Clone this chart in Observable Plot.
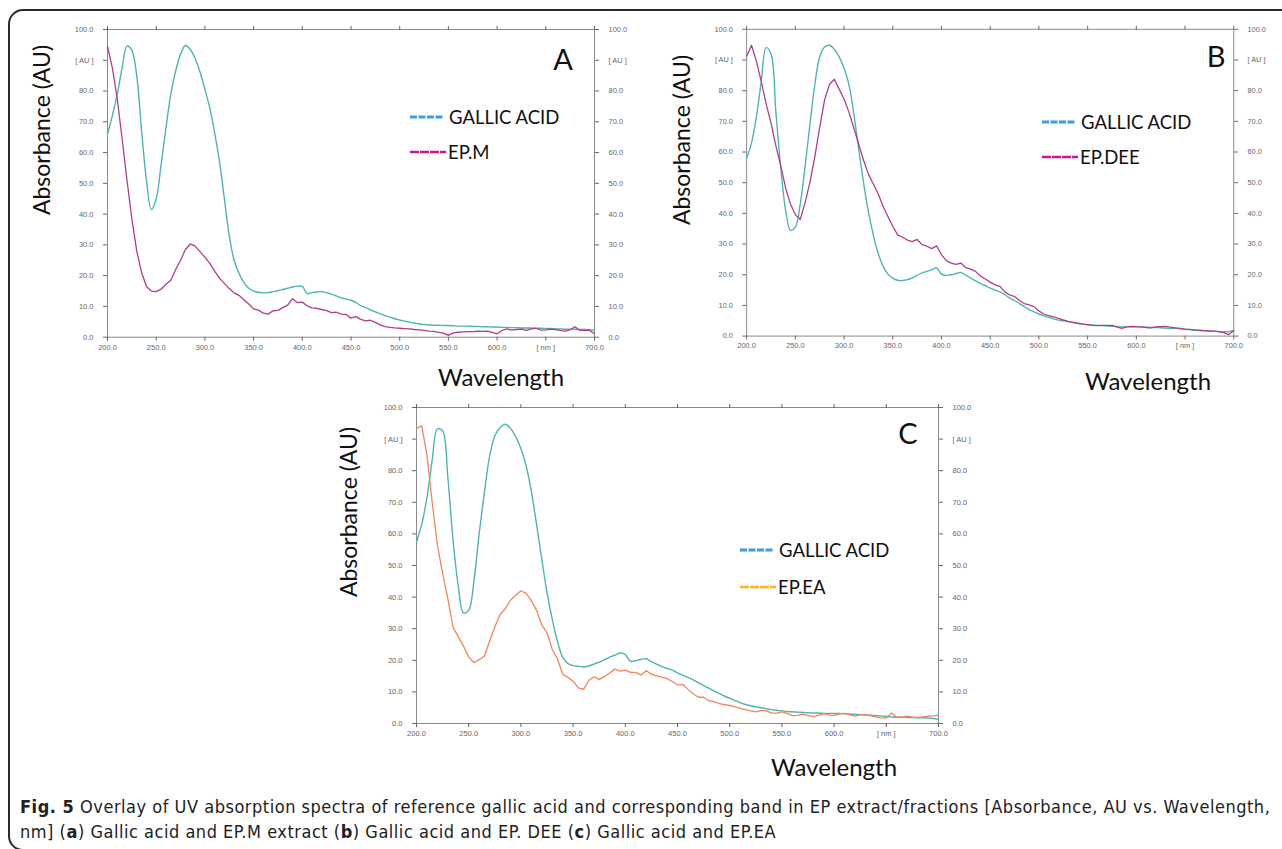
<!DOCTYPE html>
<html><head><meta charset="utf-8">
<script src="https://cdn.jsdelivr.net/npm/d3@7"></script>
<script src="https://cdn.jsdelivr.net/npm/@observablehq/plot@0.6"></script>
<style>
html,body{margin:0;padding:0;background:#fff;}
body{width:1282px;height:849px;position:relative;overflow:hidden;font-family:Lato,"Open Sans",sans-serif;}
#border{position:absolute;left:8px;top:9px;width:1320px;height:842px;box-sizing:border-box;border:2px solid #2a2a2a;border-radius:15px;}
.panel{position:absolute;}
.ytitle{position:absolute;transform:translate(-50%,-50%) rotate(-90deg);white-space:nowrap;font-size:23px;color:#111;}
.xtitle{position:absolute;transform:translate(-50%,-50%);font-size:24px;color:#111;white-space:nowrap;}
.letter{position:absolute;transform:translate(-50%,-50%);font-size:29px;color:#111;}
.leg{position:absolute;display:flex;align-items:center;transform:translateY(-50%);font-size:18.5px;color:#111;white-space:nowrap;}
.leg svg{margin-right:5px;}
.caption{position:absolute;left:20px;top:794px;font-family:"Liberation Sans Narrow","DejaVu Sans Condensed",sans-serif;font-size:18px;letter-spacing:0.52px;line-height:25px;color:#222;white-space:nowrap;}
</style>
</head><body>
<div id="border"></div>
<div id="root"></div>
<div class="caption"><b>Fig. 5</b> Overlay of UV absorption spectra of reference gallic acid and corresponding band in EP extract/fractions [Absorbance, AU vs. Wavelength,<br>nm] (<b>a</b>) Gallic acid and EP.M extract (<b>b</b>) Gallic acid and EP. DEE (<b>c</b>) Gallic acid and EP.EA</div>
<script>
// ---- data ----
const wavelength = [200,205,210,215,220,225,230,235,240,245,250,255,260,265,270,275,280,285,290,295,300,305,310,315,320,325,330,335,340,345,350,355,360,365,370,375,380,385,390,395,400,405,410,415,420,425,430,435,440,445,450,455,460,465,470,475,480,485,490,495,500,505,510,515,520,525,530,535,540,545,550,555,560,565,570,575,580,585,590,595,600,605,610,615,620,625,630,635,640,645,650,655,660,665,670,675,680,685,690,695,700];

const xTicks = [200,250,300,350,400,450,500,550,600,650,700];
const yTicks = [0,10,20,30,40,50,60,70,80,90,100];
const xTickLabels = ["200.0","250.0","300.0","350.0","400.0","450.0","500.0","550.0","600.0","[ nm ]","700.0"];
const yTickLabels = ["0.0","10.0","20.0","30.0","40.0","50.0","60.0","70.0","80.0","[ AU ]","100.0"];

const gallicA = [66,72,79,87.5,94.6,93.2,85,67,51,41.5,45,56,68,79,86.5,92,94.8,93.5,90.5,86.2,80.5,74.5,66.5,57,45,33,25,20.8,17.8,15.9,15,14.6,14.4,14.5,14.8,15.1,15.5,15.9,16.3,16.6,16.5,14.2,14.5,14.7,14.8,14.4,14,13.4,12.8,12.4,12,11.3,10.3,9.6,8.9,8.2,7.6,7,6.5,6,5.6,5.2,4.9,4.6,4.3,4.1,4.0,3.9,3.9,3.8,3.8,3.7,3.6,3.6,3.6,3.5,3.5,3.4,3.4,3.3,3.3,3.2,3.2,3.1,3.1,3.0,3.0,3.0,2.9,2.9,2.8,2.8,2.7,2.7,2.6,2.6,2.6,2.5,2.5,2.4,2.3];
const epM = [94.5,87.5,77.5,64.5,51,38.5,28,21,16.5,15,14.8,15.6,17.2,18.5,22,25,28.5,30.3,29.6,27.8,26,24,21.5,19.2,17.5,15.8,14.4,13.6,12.2,10.8,9.2,8.8,7.8,7.5,8.6,8.7,9.6,10.4,12.5,11.2,11.4,10.2,9.5,9.4,9.0,8.6,8.0,8.1,7.5,7.4,6.2,6.7,5.8,5.3,5.5,4.8,4.0,3.4,3.2,3.0,2.9,2.8,2.7,2.5,2.4,2.2,2.0,1.9,1.6,1.3,0.6,1.4,1.6,1.7,1.8,1.8,2.0,1.9,2.0,1.6,1.1,2.2,2.7,2.3,2.5,2.6,2.2,2.7,2.9,2.3,2.4,2.6,2.5,2.2,2.0,2.4,3.4,2.2,2.3,2.2,1.1];

const gallicB = [58,63,71.5,83,94,92,73,55,41,34.5,35.5,43,55.5,69,82,91,94.2,94.8,93.5,91,87.3,82,72.5,61,50,40.5,33,27,22.8,20.2,18.9,18.2,18.1,18.4,19,19.8,20.6,21.1,21.6,22.2,20.2,19.8,20,20.4,20.7,19.9,18.9,18,17.2,16.5,15.6,15,14.4,13.5,12.4,11.6,10.6,9.6,8.6,7.9,7.2,6.6,6.1,5.6,5.2,5.0,4.7,4.4,4.1,3.9,3.7,3.6,3.5,3.4,3.3,3.2,3.1,3.0,3.0,3.0,3.0,3.0,2.9,2.8,2.8,2.7,2.6,2.5,2.5,2.4,2.2,2.1,1.9,1.8,1.7,1.6,1.6,1.5,1.4,1.5,1.8];
const epDEE = [91.2,94.8,89.6,83,75.7,69.5,62,55.6,48.3,43,39.6,38,43.5,50.2,58.5,68,77,82,83.7,80.5,77.3,73,67.9,62.6,57.3,52.8,49.6,46.4,42.3,39,35.8,33,32.2,31.3,30.8,31.5,29.8,29.3,28.5,29.4,26.5,24.6,23.8,23.4,23.8,22.3,21.8,21.1,19.6,18.6,17.6,16.7,16.2,14.4,13.4,12.9,11.6,10.6,10.2,9.6,8.2,7.2,6.7,6.3,5.8,5.3,4.8,4.5,4.2,3.9,3.7,3.5,3.4,3.5,3.5,3.5,3.0,2.5,3.0,3.2,3.1,3.0,2.8,2.7,3.0,3.1,3.2,2.9,2.7,2.5,2.3,2.2,2.0,1.9,1.8,1.7,1.6,1.4,1.1,0.5,1.8];

const gallicC = [57.5,63,71.5,83.3,93.2,92.6,78,58,43.5,35,35.8,45,60,73,84.5,91,93.6,94.7,93.4,90.8,87,81.5,73.5,63,52,41.5,33,26,21,19,18.3,18.1,17.9,18.2,18.8,19.4,20.2,21,21.6,22.3,21.8,19.7,19.9,20.3,20.5,19.5,18.8,18,17.4,16.9,16,15.3,14.6,13.8,12.9,12,11.2,10.3,9.5,8.7,8,7.3,6.6,6,5.6,5.3,5,4.7,4.4,4.2,4.0,3.8,3.7,3.6,3.5,3.4,3.3,3.3,3.2,3.2,3.2,3.2,3.1,3.0,2.9,2.8,2.7,2.6,2.5,2.4,2.2,2.1,2.0,2.0,1.9,1.9,1.8,1.8,1.7,1.6,1.3];
const epEA = [93.4,94.2,85,70,56.5,47.5,39.5,30.5,27.5,24.5,21,19.3,20.2,21.3,26,30.5,34.5,36.3,39,40.6,42,41.2,38.9,35.8,31.2,28.7,23.5,20.5,15.6,14.6,13.4,11.3,10.8,13.6,14.8,13.9,14.9,16,17.2,16.6,16.9,16.2,16.2,15.3,16.8,15.6,15.1,14.7,14.2,13.3,12.2,12.4,10.8,9.4,8.3,8.3,7.2,6.9,6.3,6,5.7,5.3,4.8,4.4,4.0,3.7,4.1,4.1,3.3,3.3,3.7,3.2,2.5,2.6,3.0,2.6,2.2,2.6,3.1,2.7,2.6,3.0,3.2,2.7,2.3,2.7,2.9,2.4,2.1,1.8,1.7,3.3,2.0,2.0,2.3,2.0,1.9,2.1,2.3,2.4,2.6];

const gallicName = "GALLIC ACID";
const panels = [
  {letter:"A", extract:"EP.M", gallic:gallicA, ext:epM, extColor:"#b03c8c", legColor:"#c8189a",
   frame:{l:107.3,r:594.3,t:29,b:336.7}, yTitle:[41,130], xTitle:[501,376], letterPos:[563,58], leg:[410,117,152]},
  {letter:"B", extract:"EP.DEE", gallic:gallicB, ext:epDEE, extColor:"#b03c8c", legColor:"#c8189a",
   frame:{l:746.7,r:1243.2,t:29,b:341.7}, yTitle:[681,140], xTitle:[1148,380], letterPos:[1216,55], leg:[1042,122,157]},
  {letter:"C", extract:"EP.EA", gallic:gallicC, ext:epEA, extColor:"#f4845a", legColor:"#ffb31a",
   frame:{l:416,r:938,t:407,b:723}, yTitle:[348,512], xTitle:[834,766], letterPos:[908,432], leg:[740,550,587]}
];
const gallicColor = "#4db5b0";
const gallicLegColor = "#3b9ce8";

// ---- drawing ----
const root = document.getElementById("root");
const fx = d => xTickLabels[xTicks.indexOf(d)];
const fy = d => yTickLabels[yTicks.indexOf(d)];

function el(tag, cls, css, html) {
  const e = document.createElement(tag);
  if (cls) e.className = cls;
  Object.assign(e.style, css);
  if (html != null) e.innerHTML = html;
  root.appendChild(e);
  return e;
}

for (const p of panels) {
  const mL = 45, mR = 50, mT = 10, mB = 24;
  const f = p.frame;
  const width = f.r - f.l + mL + mR, height = f.b - f.t + mT + mB;
  const gData = wavelength.map((w, i) => ({w, a: p.gallic[i]}));
  const eData = wavelength.map((w, i) => ({w, a: p.ext[i]}));
  const chart = Plot.plot({
    width, height, marginLeft: mL, marginRight: mR, marginTop: mT, marginBottom: mB,
    x: {domain: [200, 700], ticks: xTicks, label: null},
    y: {domain: [0, 100], ticks: yTicks, label: null},
    style: {fontFamily: "'Liberation Sans', Arial, sans-serif", fontSize: "7.5px", color: "#666", background: "transparent", overflow: "visible"},
    marks: [
      Plot.frame({stroke: "#8a8a8a"}),
      Plot.axisY({anchor: "left", ticks: yTicks, tickFormat: fy, tickSize: 4, tickPadding: 10, label: null}),
      Plot.axisY({anchor: "right", ticks: yTicks, tickFormat: fy, tickSize: 4, tickPadding: 10, label: null}),
      Plot.axisX({anchor: "bottom", ticks: xTicks, tickFormat: fx, tickSize: 4, tickPadding: 3, label: null}),
      Plot.axisX({anchor: "top", ticks: xTicks, tickFormat: () => "", tickSize: 4, label: null}),
      Plot.line(gData, {x: "w", y: "a", stroke: gallicColor, strokeWidth: 1.4, curve: "catmull-rom"}),
      Plot.line(eData, {x: "w", y: "a", stroke: p.extColor, strokeWidth: 1.3})
    ]
  });
  const wrap = el("div", "panel", {left: (f.l - mL) + "px", top: (f.t - mT) + "px"});
  wrap.appendChild(chart);

  el("div", "ytitle", {left: p.yTitle[0] + "px", top: p.yTitle[1] + "px"}, "Absorbance (AU)");
  el("div", "xtitle", {left: p.xTitle[0] + "px", top: p.xTitle[1] + "px"}, "Wavelength");
  el("div", "letter", {left: p.letterPos[0] + "px", top: p.letterPos[1] + "px"}, p.letter);

  const sw1 = `<svg width="34" height="6"><line x1="0" y1="3" x2="34" y2="3" stroke="${gallicLegColor}" stroke-width="3" stroke-dasharray="7,1.5"/></svg>`;
  const sw2 = `<svg width="36" height="6"><line x1="0" y1="3" x2="36" y2="3" stroke="${p.legColor}" stroke-width="2.6" stroke-dasharray="9,1"/></svg>`;
  el("div", "leg", {left: p.leg[0] + "px", top: p.leg[1] + "px"}, sw1 + "<span>" + gallicName + "</span>");
  el("div", "leg", {left: p.leg[0] + "px", top: p.leg[2] + "px"}, sw2 + "<span style='margin-left:-3px'>" + p.extract + "</span>");
}
</script>
</body></html>
